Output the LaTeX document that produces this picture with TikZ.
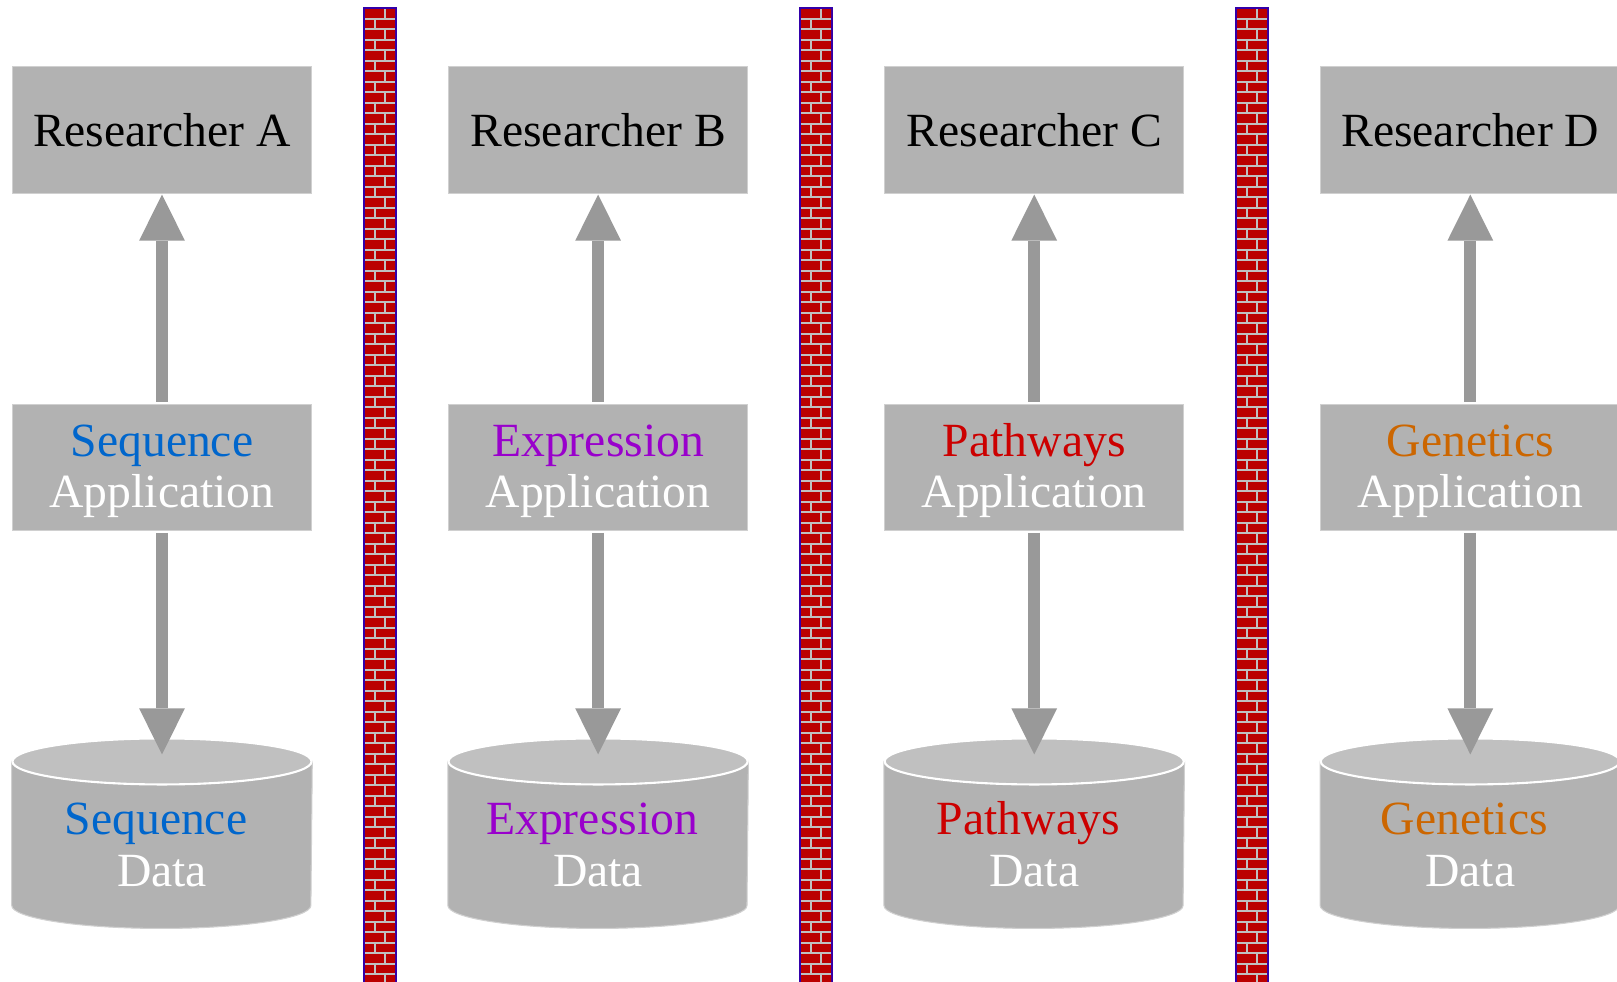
\documentclass[tikz,border=0pt]{standalone}
\usepackage{fontspec}
\setmainfont{Liberation Serif}
\usepackage{xcolor}
\usepackage{tikz}
\usetikzlibrary{arrows.meta, positioning, backgrounds}
\definecolor{boxgray}{RGB}{178,178,178}
\definecolor{boxedge}{RGB}{208,208,208}
\definecolor{topgray}{RGB}{192,192,192}
\definecolor{arrowgray}{RGB}{153,153,153}
\definecolor{seqblue}{RGB}{0,102,204}
\definecolor{exprpurple}{RGB}{153,0,204}
\definecolor{pathred}{RGB}{204,0,0}
\definecolor{genorange}{RGB}{204,102,0}
\definecolor{brickred}{RGB}{187,0,0}
\definecolor{mortar}{RGB}{192,192,192}
\definecolor{wallblue}{RGB}{51,0,170}

\begin{document}
\begin{tikzpicture}[
    x=0.01cm, y=-0.01cm,
    every node/.style={font=\fontsize{13.55}{14.65}\selectfont},
    person/.style={
        rectangle,
        draw=boxedge,
        line width=0.3pt,
        fill=boxgray,
        minimum width=2.99cm,
        minimum height=1.26cm,
        inner sep=0pt,
        text=black
    },
    appbox/.style={
        person,
        text=white,
        align=center
    },
    datastore/.style={
        rectangle,
        minimum width=2.99cm,
        minimum height=1.425cm,
        inner sep=0pt,
        text=white,
        align=center
    },
    cylside/.style={
        fill=boxgray,
        draw=boxedge,
        line width=0.3pt
    },
    cyltop/.style={
        fill=topgray,
        draw=white,
        line width=0.6pt
    },
    arrow/.style={
        line width=0.12cm,
        draw=arrowgray,
        -{Triangle[length=0.46cm, width=0.457cm, line width=0pt]}
    },
    uparrow/.style={arrow, shorten <=0.02cm, shorten >=0.01cm},
    downarrow/.style={arrow, shorten <=0.02cm, shorten >=0.07cm},
    wall/.style={
        fill=mortar,
        draw=wallblue,
        line width=0.57pt
    }
]

\useasboundingbox (0,0) rectangle (1617,982);

% ==================== BRICK WALLS ====================

\foreach \wx in {380,816,1252} {
    \draw[wall] (\wx-16.3,7.7) rectangle (\wx+16.3,995);
    \begin{scope}
        \clip (\wx-15,9) rectangle (\wx+15,995);
        \foreach \r in {0,...,94} {
            \pgfmathsetmacro\off{mod(\r,2)*10.5}
            \foreach \c in {0,1,2}
                \fill[brickred] ({\wx-15-\off+21*\c},{9.3+10.5*\r}) rectangle ++(19,8.5);
        }
    \end{scope}
}

% ==================== RESEARCHERS ====================

\node (resA) [person] at (162,130) {Researcher A};
\node (resB) [person, right=1.358cm of resA] {Researcher B};
\node (resC) [person, right=1.358cm of resB] {Researcher C};
\node (resD) [person, right=1.358cm of resC] {Researcher D};

% ==================== APPLICATIONS ====================

\node (appA) [appbox, below=2.1cm of resA] {\rule{0pt}{0.83em}\textcolor{seqblue}{Sequence}\\Application};
\node (appB) [appbox, below=2.1cm of resB] {\rule{0pt}{0.83em}\textcolor{exprpurple}{Expression}\\Application};
\node (appC) [appbox, below=2.1cm of resC] {\rule{0pt}{0.83em}\textcolor{pathred}{Pathways}\\Application};
\node (appD) [appbox, below=2.1cm of resD] {\rule{0pt}{0.83em}\textcolor{genorange}{Genetics}\\Application};

% ==================== DATA STORES ====================

\node (dataA) [datastore, below=2.305cm of appA] {\rule{0pt}{1.14em}\textcolor{seqblue}{Sequence}\kern0.12cm\\Data};
\node (dataB) [datastore, below=2.305cm of appB] {\rule{0pt}{1.14em}\textcolor{exprpurple}{Expression}\kern0.12cm\\Data};
\node (dataC) [datastore, below=2.305cm of appC] {\rule{0pt}{1.14em}\textcolor{pathred}{Pathways}\kern0.12cm\\Data};
\node (dataD) [datastore, below=2.305cm of appD] {\rule{0pt}{1.14em}\textcolor{genorange}{Genetics}\kern0.12cm\\Data};

% Connections
\draw [uparrow] (appA.north) -- (resA.south);
\draw [uparrow] (appB.north) -- (resB.south);
\draw [uparrow] (appC.north) -- (resC.south);
\draw [uparrow] (appD.north) -- (resD.south);

\draw [downarrow] (appA.south) -- (dataA.north);
\draw [downarrow] (appB.south) -- (dataB.north);
\draw [downarrow] (appC.south) -- (dataC.north);
\draw [downarrow] (appD.south) -- (dataD.north);

% Cylinder bodies behind the data labels
\begin{scope}[on background layer]
    \fill[white] (0,0) rectangle (1617,982);
    \foreach \n in {dataA,dataB,dataC,dataD} {
        \filldraw[cylside] (\n.north west) -- (\n.south west)
            arc[start angle=180, end angle=360, x radius=1.495cm, y radius=0.23cm]
            -- (\n.north east) -- cycle;
        \filldraw[cyltop] (\n.north) ellipse [x radius=1.495cm, y radius=0.23cm];
    }
\end{scope}

\end{tikzpicture}
\end{document}
